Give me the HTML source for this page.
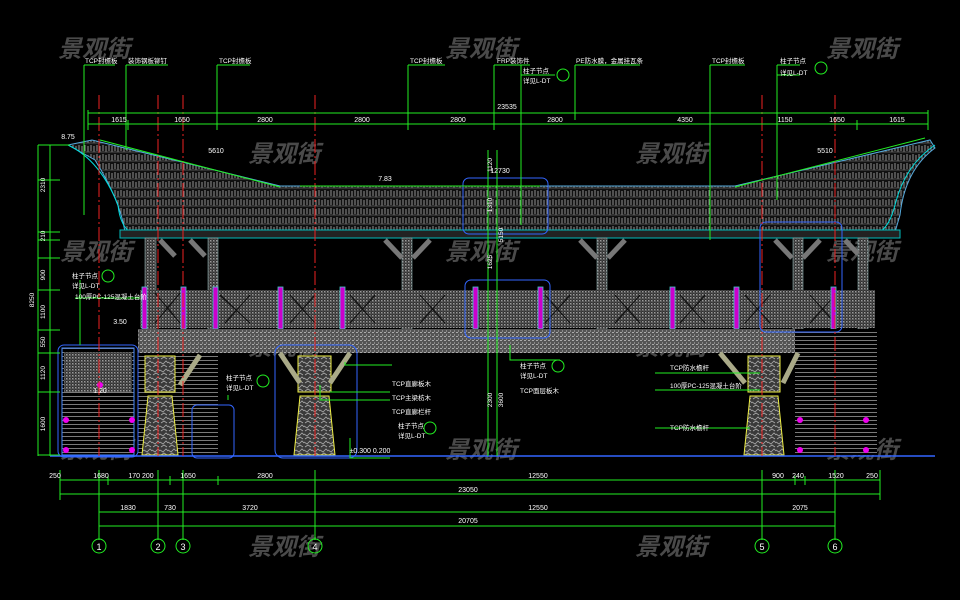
<!DOCTYPE html>
<html><head><meta charset="utf-8"><style>
html,body{margin:0;padding:0;background:#000;width:960px;height:600px;overflow:hidden}
svg{display:block}
text{font-family:"Liberation Sans","Noto Sans CJK SC",sans-serif}
</style></head><body>
<svg width="960" height="600" viewBox="0 0 960 600" xmlns="http://www.w3.org/2000/svg">
<defs>
<pattern id="roof" width="6" height="9" patternUnits="userSpaceOnUse">
<rect width="6" height="9" fill="#101010"/>
<path d="M1 1v6M4 2v6" stroke="#909090" stroke-width="1"/>
<path d="M0 8h6" stroke="#606060" stroke-width="0.8"/>
</pattern>
<pattern id="dots" width="3" height="3" patternUnits="userSpaceOnUse">
<rect width="3" height="3" fill="#303030"/>
<rect x="0" y="0" width="1.5" height="1.5" fill="#9a9a9a"/>
<rect x="1.5" y="1.5" width="1" height="1" fill="#777"/>
</pattern>
<pattern id="deck" width="4" height="4" patternUnits="userSpaceOnUse">
<rect width="4" height="4" fill="#555"/>
<rect x="0" y="0" width="2" height="1" fill="#aaa"/>
<rect x="2" y="2" width="1" height="2" fill="#888"/>
</pattern>
<pattern id="stone" width="8" height="8" patternUnits="userSpaceOnUse">
<rect width="8" height="8" fill="#3a3a3a"/>
<path d="M0 2l3 2 3-3 2 2M1 7l3-2 3 2" stroke="#aaa" stroke-width="0.8" fill="none"/>
</pattern>
<pattern id="stair" width="4" height="4" patternUnits="userSpaceOnUse">
<rect width="4" height="4" fill="#000"/>
<path d="M0 0.5h4" stroke="#999" stroke-width="0.8"/>
</pattern>
</defs>

<!-- watermarks -->
<g fill="#4a4a4a" font-size="24" font-style="italic" font-weight="bold">
<text x="58" y="57">景观街</text><text x="445" y="57">景观街</text><text x="826" y="57">景观街</text>
<text x="248" y="162">景观街</text><text x="635" y="162">景观街</text>
<text x="60" y="260">景观街</text><text x="445" y="260">景观街</text><text x="826" y="260">景观街</text>
<text x="248" y="355">景观街</text><text x="635" y="355">景观街</text>
<text x="60" y="458">景观街</text><text x="445" y="458">景观街</text><text x="826" y="458">景观街</text>
<text x="248" y="555">景观街</text><text x="635" y="555">景观街</text>
</g>

<!-- roof -->
<path d="M68 145 L92 140 L280 186 L735 186 L930 140 L935 148 Q905 170 900 215 L895 232 L125 232 Q120 200 95 160 Z" fill="url(#roof)" stroke="#5ad" stroke-width="1"/>
<path d="M68 145 Q100 160 118 205 Q120 225 130 232" fill="none" stroke="#0dd" stroke-width="1"/>
<path d="M935 145 Q905 165 895 205 Q890 225 880 232" fill="none" stroke="#0dd" stroke-width="1"/>
<rect x="120" y="230" width="780" height="8" fill="#222" stroke="#0bb" stroke-width="1"/>
<!-- columns & brackets -->
<g fill="url(#dots)" stroke="#8aa" stroke-width="0.6">
<rect x="145" y="238" width="11" height="92"/><rect x="208" y="238" width="10" height="92"/>
<rect x="402" y="238" width="10" height="92"/><rect x="597" y="238" width="10" height="92"/>
<rect x="793" y="238" width="10" height="92"/><rect x="858" y="238" width="10" height="92"/>
</g>
<g stroke="#777" stroke-width="5">
<path d="M160 240l15 16M190 240l15 16M385 240l17 18M430 240l-17 18M580 240l17 18M625 240l-17 18M775 240l17 18M820 240l-17 18M845 240l13 14"/>
</g>
<!-- railing -->
<rect x="140" y="290" width="735" height="38" fill="url(#dots)"/>
<g stroke="#111" stroke-width="1.2">
<path d="M155 293l25 30M220 295l30 28M290 295l25 28M350 295l25 28M420 295l25 28M545 295l25 28M615 295l25 28M680 295l25 28M745 295l25 28M810 295l25 28"/>
<path d="M180 293l-25 30M250 295l-25 28M315 295l-25 28M375 295l-25 28M445 295l-25 28M570 295l-25 28M640 295l-25 28M705 295l-25 28M770 295l-25 28M835 295l-25 28"/>
</g>
<g fill="#c0c" stroke="#4cc" stroke-width="0.8">
<rect x="142" y="287" width="5" height="42"/><rect x="181" y="287" width="5" height="42"/><rect x="213" y="287" width="5" height="42"/>
<rect x="278" y="287" width="5" height="42"/><rect x="340" y="287" width="5" height="42"/><rect x="473" y="287" width="5" height="42"/>
<rect x="538" y="287" width="5" height="42"/><rect x="670" y="287" width="5" height="42"/><rect x="734" y="287" width="5" height="42"/>
<rect x="831" y="287" width="5" height="42"/>
</g>
<!-- deck -->
<rect x="138" y="329" width="657" height="24" fill="url(#deck)"/>
<!-- stairs -->
<rect x="62" y="348" width="72" height="107" fill="url(#stair)" stroke="#48f" stroke-width="1"/>
<rect x="795" y="329" width="82" height="126" fill="url(#stair)"/>
<rect x="64" y="352" width="68" height="40" fill="url(#dots)"/>
<g fill="#e0e"><circle cx="66" cy="420" r="3"/><circle cx="132" cy="420" r="3"/><circle cx="66" cy="450" r="3"/><circle cx="132" cy="450" r="3"/><circle cx="100" cy="385" r="3"/><circle cx="800" cy="420" r="3"/><circle cx="866" cy="420" r="3"/><circle cx="800" cy="450" r="3"/><circle cx="866" cy="450" r="3"/></g>
<rect x="138" y="353" width="80" height="102" fill="url(#stair)"/>
<!-- piers -->
<g stroke="#ee4" stroke-width="1" fill="url(#stone)">
<rect x="145" y="356" width="30" height="36"/><path d="M148 396h24l6 59h-36z"/>
<rect x="298" y="356" width="33" height="36"/><path d="M300 396h29l6 59h-41z"/>
<rect x="748" y="356" width="32" height="36"/><path d="M750 396h28l6 59h-40z"/>
</g>
<g stroke="#aa8" stroke-width="5"><path d="M180 385l20-30M280 353l20 30M350 353l-20 30M720 353l25 30M798 353l-15 30"/></g>
<!-- blue outlines -->
<g fill="none" stroke="#36f" stroke-width="1">
<rect x="58" y="345" width="80" height="112" rx="6"/><rect x="275" y="345" width="82" height="113" rx="8"/>
<rect x="192" y="405" width="42" height="53" rx="5"/><rect x="465" y="280" width="85" height="58" rx="6"/>
<rect x="463" y="178" width="85" height="56" rx="6"/><rect x="760" y="222" width="82" height="110" rx="6"/>
</g>
<line x1="50" y1="456" x2="935" y2="456" stroke="#36f" stroke-width="1.5"/>

<!-- red axes -->
<g stroke="#e22" stroke-width="1" stroke-dasharray="14 3 2 3">
<path d="M99 95V456M158 95V456M183 95V456M315 95V456M762 95V456M835 95V456"/>
</g>

<!-- green dims -->
<g stroke="#2e2" stroke-width="1" fill="none">
<path d="M88 113H928M88 124H928"/>
<path d="M88 110V130M128 120V130M217 65V130M408 65V130M494 65V130M521 65V225M575 65V120M710 65V240M777 65V200M857 120V130M928 110V130M84 65V215M126 65V150"/>
<path d="M84 65H115M126 65H168M217 65H250M408 65H445M494 65H530M521 75H555M575 65H640M710 65H745M777 65H800M777 75H800"/>
<path d="M38 145V456M50 145V456M38 145H70M38 180H60M38 232H60M38 240H60M38 258H60M38 290H60M38 330H60M38 353H60M38 392H60M38 455H60"/>
<path d="M60 480H880M60 494H880M99 512H835M99 526H835"/>
<path d="M99 470V540M158 470V540M183 470V540M315 470V540M762 470V540M835 470V540M60 470V500M880 470V500M108 476V485M170 476V485M218 476V485M795 476V485M805 476V485"/>
<path d="M100 140L280 187M735 187L925 138M300 186H540"/>
<path d="M488 150V456M497 150V456M510 345V360H560"/>
<path d="M80 280V345M75 298H140M330 392H390M320 385V400H390M345 362V365H392M350 438V458H390M228 395V400M655 373H760M655 390H760M655 428H750"/>
</g>
<g fill="none" stroke="#2e2" stroke-width="1">
<circle cx="99" cy="546" r="7"/><circle cx="158" cy="546" r="7"/><circle cx="183" cy="546" r="7"/>
<circle cx="315" cy="546" r="7"/><circle cx="762" cy="546" r="7"/><circle cx="835" cy="546" r="7"/>
<circle cx="108" cy="276" r="6"/><circle cx="263" cy="381" r="6"/><circle cx="430" cy="428" r="6"/><circle cx="821" cy="68" r="6"/><circle cx="563" cy="75" r="6"/><circle cx="558" cy="366" r="6"/>
</g>
<g fill="#fff" font-size="9" text-anchor="middle">
<text x="99" y="550">1</text><text x="158" y="550">2</text><text x="183" y="550">3</text>
<text x="315" y="550">4</text><text x="762" y="550">5</text><text x="835" y="550">6</text>
</g>
<g fill="#fff" font-size="7" text-anchor="middle">
<text x="119" y="122">1615</text><text x="182" y="122">1650</text><text x="265" y="122">2800</text><text x="362" y="122">2800</text>
<text x="458" y="122">2800</text><text x="555" y="122">2800</text><text x="685" y="122">4350</text><text x="785" y="122">1150</text>
<text x="837" y="122">1650</text><text x="897" y="122">1615</text><text x="507" y="109">23535</text>
<text x="55" y="478">250</text><text x="101" y="478">1680</text><text x="141" y="478">170 200</text><text x="188" y="478">1650</text>
<text x="265" y="478">2800</text><text x="538" y="478">12550</text><text x="778" y="478">900</text><text x="798" y="478">240</text><text x="836" y="478">1520</text><text x="872" y="478">250</text>
<text x="468" y="492">23050</text>
<text x="128" y="510">1830</text><text x="170" y="510">730</text><text x="250" y="510">3720</text><text x="538" y="510">12550</text><text x="800" y="510">2075</text>
<text x="468" y="523">20705</text>
<text x="68" y="139">8.75</text><text x="216" y="153">5610</text><text x="385" y="181">7.83</text><text x="500" y="173">12730</text><text x="825" y="153">5510</text>
<text x="120" y="324">3.50</text><text x="100" y="393">1.20</text><text x="370" y="453">±0.300 0.200</text>
</g>
<g fill="#fff" font-size="6.5">
<text x="85" y="63">TCP封檐板</text><text x="128" y="63">装饰钢板铆钉</text><text x="219" y="63">TCP封檐板</text><text x="410" y="63">TCP封檐板</text>
<text x="497" y="63">FRP装饰件</text><text x="576" y="63">PE防水膜，金属挂瓦条</text><text x="712" y="63">TCP封檐板</text>
<text x="780" y="63">柱子节点</text><text x="780" y="75">详见L-DT</text><text x="523" y="73">柱子节点</text><text x="523" y="83">详见L-DT</text>
<text x="72" y="278">柱子节点</text><text x="72" y="288">详见L-DT</text><text x="75" y="299">100厚PC-125混凝土台阶</text>
<text x="226" y="380">柱子节点</text><text x="226" y="390">详见L-DT</text>
<text x="392" y="386">TCP直廊板木</text><text x="392" y="400">TCP主梁枋木</text><text x="392" y="414">TCP直廊栏杆</text>
<text x="398" y="428">柱子节点</text><text x="398" y="438">详见L-DT</text>
<text x="520" y="368">柱子节点</text><text x="520" y="378">详见L-DT</text><text x="520" y="393">TCP面层板木</text>
<text x="670" y="370">TCP防水檐杆</text><text x="670" y="388">100厚PC-125混凝土台阶</text><text x="670" y="430">TCP防水檐杆</text>
</g>
<g fill="#fff" font-size="6.5" text-anchor="middle">
<text transform="translate(45,185) rotate(-90)">2310</text><text transform="translate(45,236) rotate(-90)">210</text>
<text transform="translate(45,275) rotate(-90)">900</text><text transform="translate(45,312) rotate(-90)">1100</text>
<text transform="translate(45,342) rotate(-90)">550</text><text transform="translate(45,373) rotate(-90)">1120</text>
<text transform="translate(45,424) rotate(-90)">1600</text><text transform="translate(34,300) rotate(-90)">8250</text>
<text transform="translate(492,400) rotate(-90)">2300</text><text transform="translate(503,400) rotate(-90)">3600</text><text transform="translate(503,235) rotate(-90)">5150</text>
<text transform="translate(492,165) rotate(-90)">1120</text><text transform="translate(492,205) rotate(-90)">1310</text><text transform="translate(492,262) rotate(-90)">1625</text>
</g>
</svg>
</body></html>
